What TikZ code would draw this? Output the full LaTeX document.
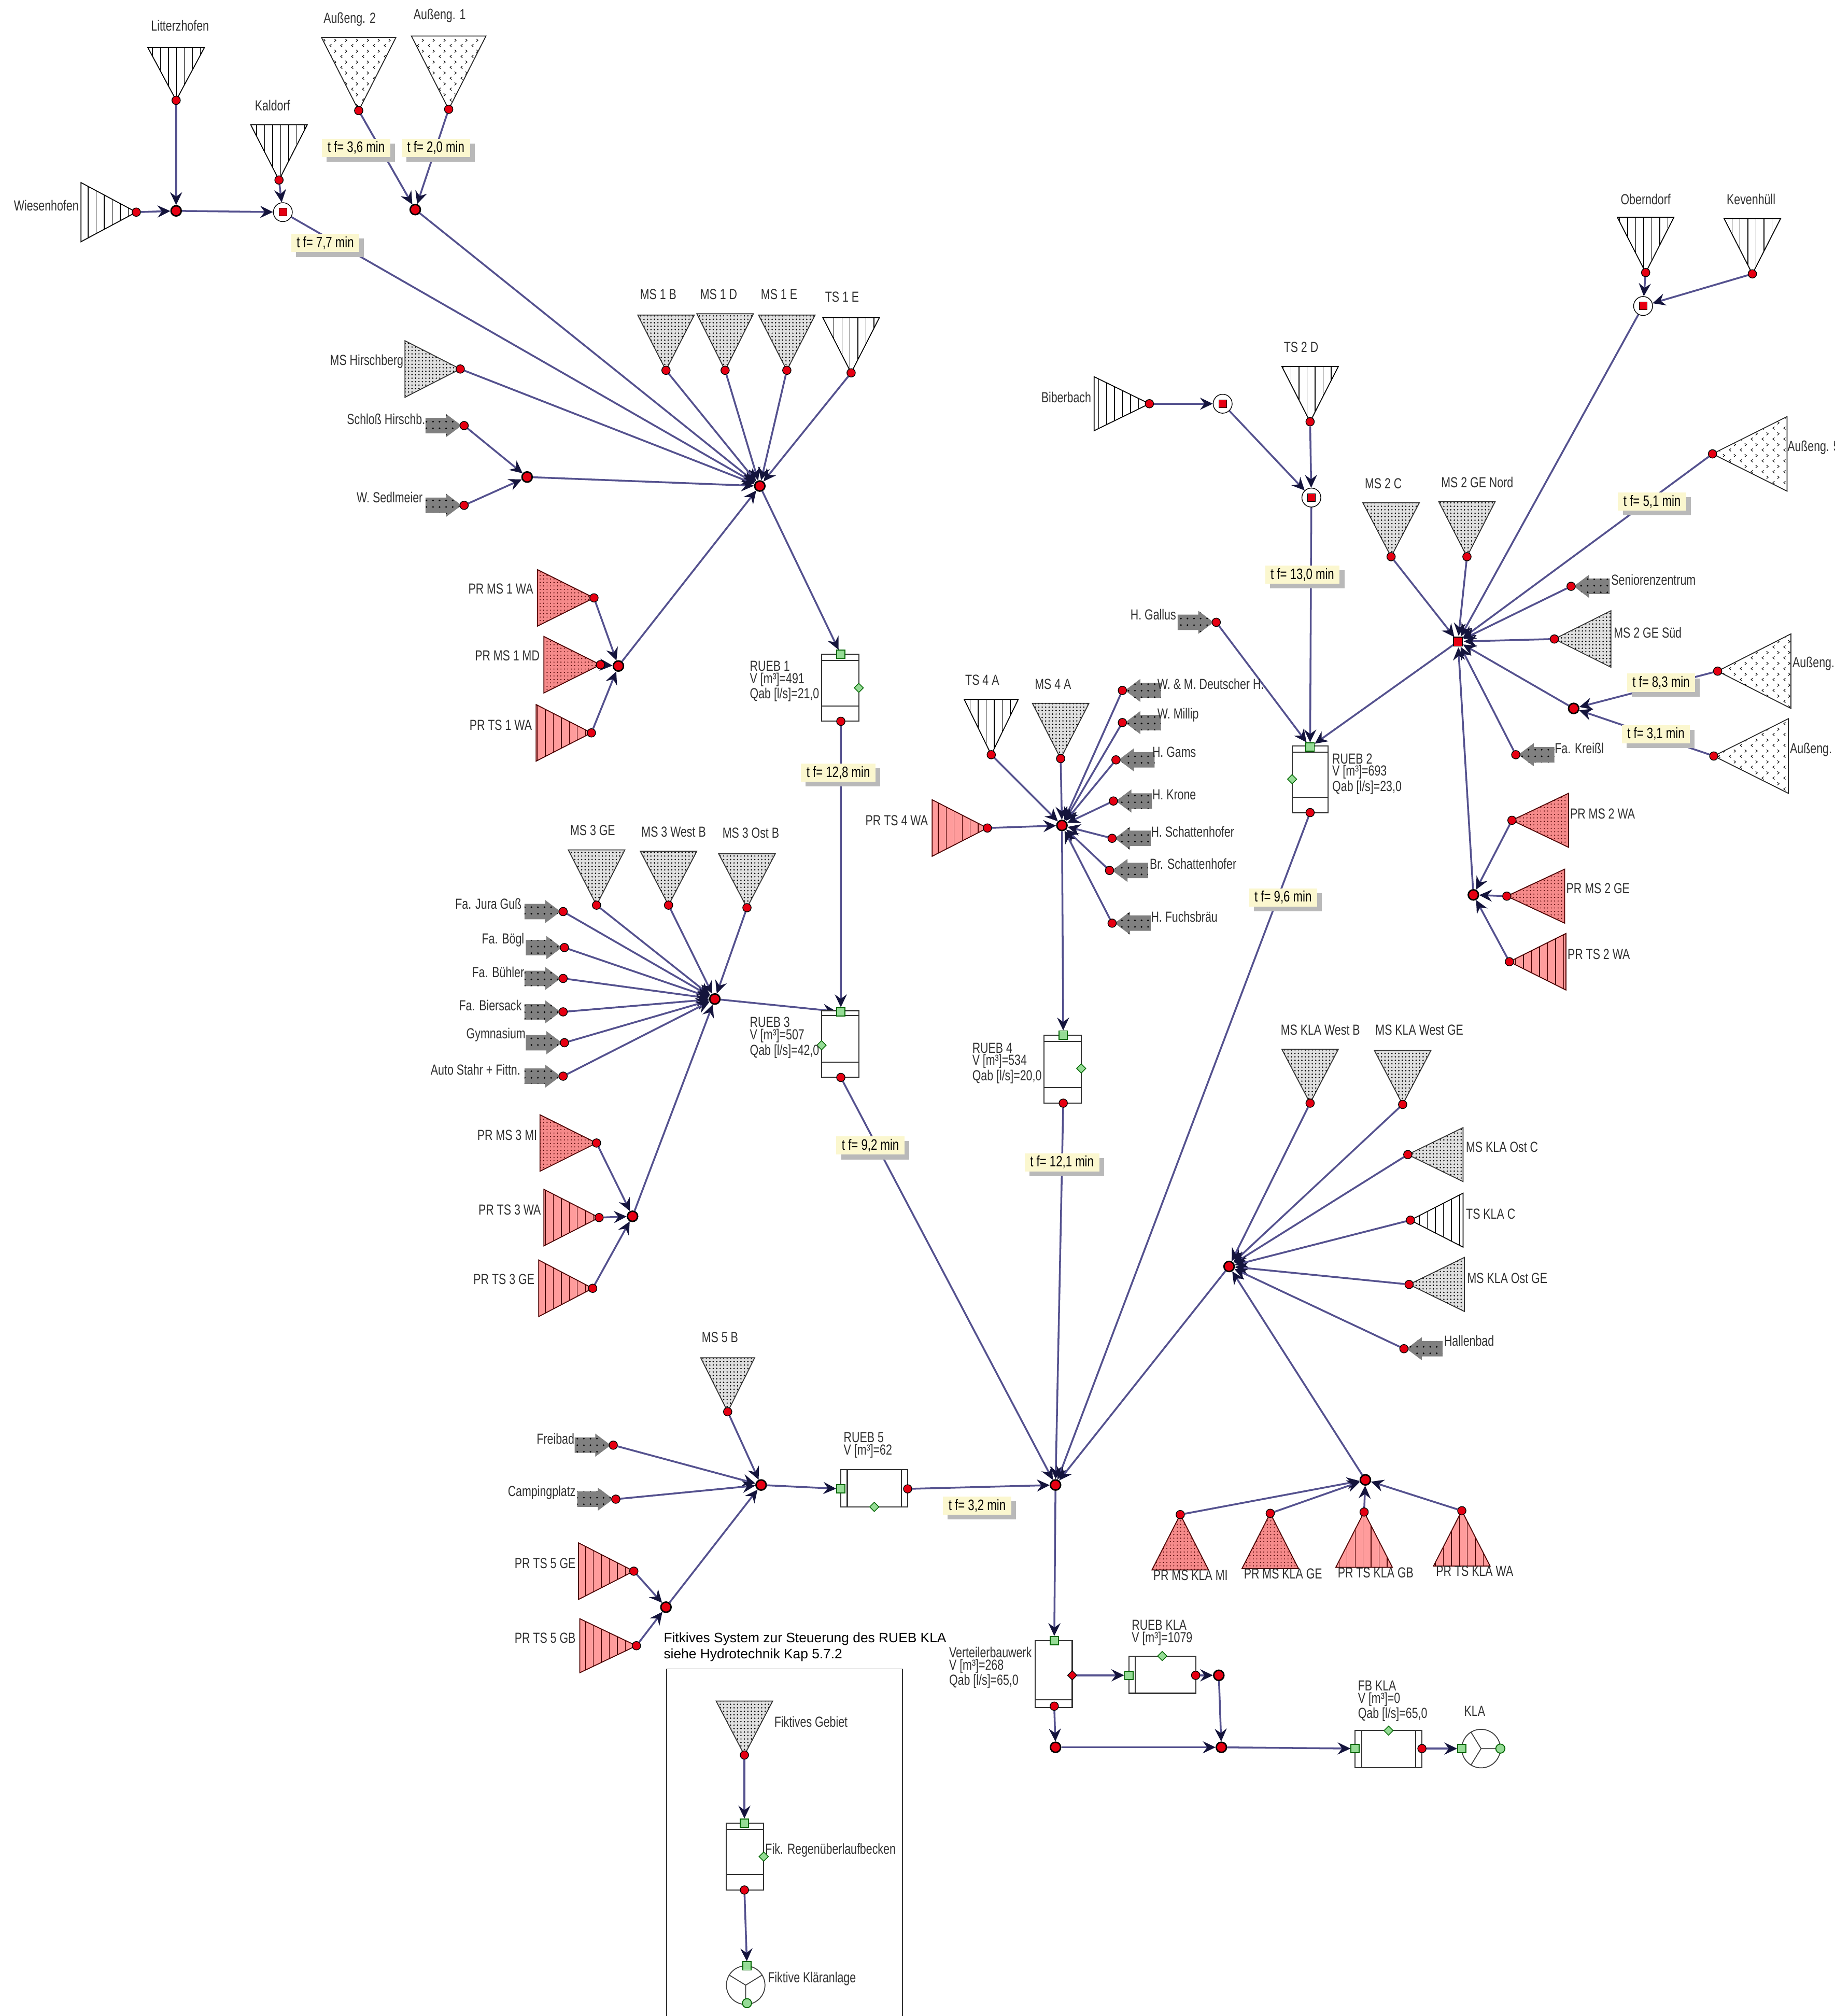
\documentclass[tikz,border=0pt]{standalone}
\usepackage{fontspec}
\setmainfont{Liberation Sans}
\newfontfamily\lab[FakeStretch=0.76]{Liberation Sans}
\usetikzlibrary{arrows.meta,patterns,patterns.meta,shapes.geometric,shadows}
\pgfdeclarelayer{conn}
\pgfsetlayers{conn,main}
\definecolor{flowc}{HTML}{55528F}
\definecolor{headc}{HTML}{14143C}
\definecolor{prfill}{HTML}{FF9C9C}
\definecolor{prdot}{HTML}{F58A8A}
\definecolor{tfc}{HTML}{FBF7CF}
\definecolor{greenc}{HTML}{96DC96}
\definecolor{txtc}{HTML}{303030}
\definecolor{redc}{HTML}{E60012}
\pgfdeclarepattern{name=chev,type=uncolored,bottom left={\pgfpoint{0pt}{0pt}},top right={\pgfpoint{6pt}{6pt}},tile size={\pgfpoint{6pt}{6pt}},
 code={\pgfsetlinewidth{.3pt}
  \pgfpathmoveto{\pgfpoint{2.2pt}{2.3pt}}\pgfpathlineto{\pgfpoint{1.2pt}{1.5pt}}\pgfpathlineto{\pgfpoint{2.2pt}{.7pt}}
  \pgfpathmoveto{\pgfpoint{3.8pt}{5.3pt}}\pgfpathlineto{\pgfpoint{4.8pt}{4.5pt}}\pgfpathlineto{\pgfpoint{3.8pt}{3.7pt}}
  \pgfusepath{stroke}}}
\tikzset{
 lbl/.style={font=\lab\fontsize{8pt}{6.7pt}\selectfont,text=txtc,inner sep=0pt,align=left},
 arial/.style={font=\fontsize{7.5pt}{8.6pt}\selectfont,text=black,inner sep=0pt,align=left},
 tf/.style={font=\lab\fontsize{8.3pt}{9pt}\selectfont,text=black,fill=tfc,inner xsep=3pt,inner ysep=0pt,minimum height=10pt,
  copy shadow={shadow xshift=2.6pt,shadow yshift=-2.6pt,fill=gray!55,draw=none,opacity=1}},
 dot/.style={circle,fill=redc,draw=black,line width=.4pt,inner sep=0pt,minimum size=4.6pt},
 joint/.style={circle,fill=redc,draw=black,line width=.8pt,inner sep=0pt,minimum size=5.6pt},
 redsq/.style={rectangle,fill=redc,draw=black,line width=.3pt,inner sep=0pt,minimum size=4.2pt},
 ring/.style={circle,draw=black,line width=.4pt,fill=white,inner sep=0pt,minimum size=10.4pt},
 greensq/.style={rectangle,fill=greenc,draw=black!60!green,line width=.5pt,inner sep=0pt,minimum size=4.6pt},
 greencirc/.style={circle,fill=greenc,draw=black!60!green,line width=.5pt,inner sep=0pt,minimum size=5pt},
 gdiam/.style={diamond,fill=greenc,draw=black!60!green,line width=.4pt,inner sep=0pt,minimum size=5.2pt},
 rdiam/.style={diamond,fill=redc,draw=black,line width=.4pt,inner sep=0pt,minimum size=5.2pt},
 basin/.style={draw=black!80,line width=.6pt,fill=white},
 hatchT/.style={draw=black,line width=.5pt,preaction={fill=white},pattern={Lines[angle=90,distance=4.4pt,line width=.4pt]},pattern color=black},
 dotT/.style={draw=black!80,line width=.5pt,preaction={fill=black!12},pattern={Dots[distance=1.9pt,radius=.42pt]},pattern color=black},
 chevT/.style={draw=black!85,line width=.5pt,preaction={fill=white},pattern=chev,pattern color=black},
 prdotT/.style={draw=black!70!red,line width=.5pt,preaction={fill=prdot},pattern={Dots[distance=1.9pt,radius=.33pt]},pattern color=black!70!red},
 prhatchT/.style={draw=black!70!red,line width=.5pt,preaction={fill=prfill},pattern={Lines[angle=90,distance=4.4pt,line width=.4pt]},pattern color=black!70!red},
 block/.style={preaction={fill=black!50},pattern={Dots[distance=3.6pt,radius=.5pt]},pattern color=black},
 flow/.style={draw=flowc,line width=1pt,-{Stealth[length=7pt,width=6.6pt,inset=2.4pt,color=headc]}},
 yspoke/.style={draw=black!75,line width=.5pt},
}
% triangles: name, apex x, apex y, half width, length, style
\newcommand\triD[6]{\path[#6] (#2,#3)--(#2-#4,#3-#5)--(#2+#4,#3-#5)--cycle;\node[dot] (#1) at (#2,#3){};}
\newcommand\triU[6]{\path[#6] (#2,#3)--(#2-#4,#3+#5)--(#2+#4,#3+#5)--cycle;\node[dot] (#1) at (#2,#3){};}
\newcommand\triR[6]{\path[#6] (#2,#3)--(#2-#5,#3-#4)--(#2-#5,#3+#4)--cycle;\node[dot] (#1) at (#2,#3){};}
\newcommand\triL[6]{\path[#6] (#2,#3)--(#2+#5,#3-#4)--(#2+#5,#3+#4)--cycle;\node[dot] (#1) at (#2,#3){};}
% block arrows: name, dot x, dot y
\newcommand\arrR[3]{\path[block] (#2-2,#3)--(#2-14,#3-9)--(#2-14,#3-6)--(#2-30,#3-6)--(#2-30,#3+6)--(#2-14,#3+6)--(#2-14,#3+9)--cycle;\node[dot] (#1) at (#2,#3){};}
\newcommand\arrL[3]{\path[block] (#2+2,#3)--(#2+14,#3-9)--(#2+14,#3-6)--(#2+30,#3-6)--(#2+30,#3+6)--(#2+14,#3+6)--(#2+14,#3+9)--cycle;\node[dot] (#1) at (#2,#3){};}
\newcommand\sqjoin[3]{\node[ring] (#1) at (#2,#3){};\node[redsq] (#1-in) at (#2,#3){};}
% upright basin: name, x0, x1, y0, y1, y top line, y low line
\newcommand\basinV[7]{\path[basin] (#2,#4) rectangle (#3,#5);\draw[basin] (#2,#6)--(#3,#6) (#2,#7)--(#3,#7);}
\newcommand\lb[5]{\node[lbl,anchor=#4] (#1) at (#2,#3) {#5};}
\begin{document}
\begin{tikzpicture}[x=0.0248cm,y=-0.0248cm]
\useasboundingbox (0,0) rectangle (1427,1568);
\begin{pgfonlayer}{conn}
\fill[white] (0,0) rectangle (1427,1568);
\end{pgfonlayer}
\clip (0,0) rectangle (1427,1568);

% ---- top left
\triR{wie}{106}{165}{23}{43}{hatchT}
\triD{lit}{137}{78}{22}{41}{hatchT}
\triD{kal}{217}{140}{22}{43}{hatchT}
\triD{au2}{279}{86}{29}{57}{chevT}
\triD{au1}{349}{85}{29}{57}{chevT}
\node[joint] (j1) at (137,164){};
\node[joint] (j2) at (323,163){};
\sqjoin{k}{220}{165}
\lb{lwie}{36}{160}{center}{Wiesenhofen}
\lb{llit}{140}{20}{center}{Litterzhofen}
\lb{lkal}{212}{82}{center}{Kaldorf}
\lb{lau2}{272}{15}{center}{Außeng. 2}
\lb{lau1}{342}{12}{center}{Außeng. 1}
\node[tf] (tf1) at (277,115){t f= 3,6 min};
\node[tf] (tf2) at (339,115){t f= 2,0 min};
\node[tf] (tf3) at (253,189){t f= 7,7 min};

% ---- MS 1
\node[joint] (h1) at (591,378){};
\triD{ms1b}{518}{288}{22}{43}{dotT}
\triD{ms1d}{564}{288}{22}{44}{dotT}
\triD{ms1e}{612}{288}{22}{43}{dotT}
\triD{ts1e}{662}{290}{22}{43}{hatchT}
\lb{lms1b}{512}{229}{center}{MS 1 B}
\lb{lms1d}{559}{229}{center}{MS 1 D}
\lb{lms1e}{606}{229}{center}{MS 1 E}
\lb{lts1e}{655}{231}{center}{TS 1 E}
\triR{hir}{358}{287}{22}{43}{dotT}
\lb{lhir}{314}{281}{east}{MS Hirschberg}
\arrR{sch}{361}{331}
\arrR{sed}{361}{393}
\lb{lsch}{331}{326}{east}{Schloß Hirschb.}
\lb{lsed}{329}{387}{east}{W. Sedlmeier}
\node[joint] (j3) at (410,371){};
\triR{pm1w}{462}{465}{22}{44}{prdotT}
\triR{pm1d}{467}{517}{22}{44}{prdotT}
\triR{pt1w}{460}{570}{22}{43}{prhatchT}
\lb{lpm1w}{415}{458}{east}{PR MS 1 WA}
\lb{lpm1d}{420}{510}{east}{PR MS 1 MD}
\lb{lpt1w}{414}{564}{east}{PR TS 1 WA}
\node[joint] (j4) at (481,518){};

% ---- RUEB 1
\basinV{r1}{639}{668}{509}{561}{513.5}{549}
\node[greensq] (r1in) at (654,509){};
\node[dot] (r1out) at (654,561){};
\node[gdiam] (r1d) at (668,535){};
\lb{lr1}{583}{530}{west}{RUEB 1\\V [m³]=491\\Qab [l/s]=21,0}
\node[tf] (tf4) at (652,601){t f= 12,8 min};

% ---- MS 3
\node[joint] (h3) at (556,777){};
\triD{ms3g}{464}{704}{22}{43}{dotT}
\triD{ms3w}{520}{704}{22}{42}{dotT}
\triD{ms3o}{581}{706}{22}{42}{dotT}
\lb{lms3g}{461}{646}{center}{MS 3 GE}
\lb{lms3w}{524}{647}{center}{MS 3 West B}
\lb{lms3o}{584}{648}{center}{MS 3 Ost B}
\arrR{jur}{438}{709}
\arrR{bog}{439}{737}
\arrR{buh}{438}{761}
\arrR{bie}{438}{787}
\arrR{gym}{439}{811}
\arrR{aut}{438}{837}
\lb{ljur}{406}{703}{east}{Fa. Jura Guß}
\lb{lbog}{408}{731}{east}{Fa. Bögl}
\lb{lbuh}{408}{756}{east}{Fa. Bühler}
\lb{lbie}{406}{782}{east}{Fa. Biersack}
\lb{lgym}{409}{805}{east}{Gymnasium}
\lb{laut}{405}{832}{east}{Auto Stahr + Fittn.}
\triR{pm3m}{464}{889}{22}{44}{prdotT}
\triR{pt3w}{466}{947}{22}{43}{prhatchT}
\triR{pt3g}{461}{1002}{22}{42}{prhatchT}
\lb{lpm3m}{418}{883}{east}{PR MS 3 MI}
\lb{lpt3w}{421}{941}{east}{PR TS 3 WA}
\lb{lpt3g}{416}{995}{east}{PR TS 3 GE}
\node[joint] (j5) at (492,946){};
\basinV{r3}{639}{668}{786}{838}{790}{826}
\node[greensq] (r3in) at (654,787){};
\node[dot] (r3out) at (654,838){};
\node[gdiam] (r3d) at (639,813){};
\lb{lr3}{583}{807}{west}{RUEB 3\\V [m³]=507\\Qab [l/s]=42,0}
\node[tf] (tf5) at (677,891){t f= 9,2 min};

% ---- Hub 4
\node[joint] (h4) at (826,642){};
\triR{pt4w}{768}{644}{22}{43}{prhatchT}
\lb{lpt4w}{722}{638}{east}{PR TS 4 WA}
\triD{ts4a}{771}{587}{21}{43}{hatchT}
\triD{ms4a}{825}{590}{22}{43}{dotT}
\lb{lts4a}{764}{529}{center}{TS 4 A}
\lb{lms4a}{819}{532}{center}{MS 4 A}
\arrL{deu}{873}{537}
\arrL{mil}{873}{562}
\arrL{gam}{868}{591}
\arrL{kro}{866}{623}
\arrL{sct}{865}{652}
\arrL{bsc}{863}{677}
\arrL{fuc}{865}{718}
\lb{ldeu}{900}{532}{west}{W. \& M. Deutscher H.}
\lb{lmil}{900}{556}{west}{W. Millip}
\lb{lgam}{896}{585}{west}{H. Gams}
\lb{lkro}{896}{618}{west}{H. Krone}
\lb{lsct}{895}{647}{west}{H. Schattenhofer}
\lb{lbsc}{894}{672}{west}{Br. Schattenhofer}
\lb{lfuc}{895}{713}{west}{H. Fuchsbräu}
\basinV{r4}{812}{841}{805}{858}{810}{846}
\node[greensq] (r4in) at (827,805){};
\node[dot] (r4out) at (827,858){};
\node[gdiam] (r4d) at (841,831){};
\lb{lr4}{756}{827}{west}{RUEB 4\\V [m³]=534\\Qab [l/s]=20,0}
\node[tf] (tf6) at (826,904){t f= 12,1 min};

% ---- RUEB 2 feed
\triR{bib}{894}{314}{21}{43}{hatchT}
\lb{lbib}{849}{309}{east}{Biberbach}
\sqjoin{b1}{951}{314}
\triD{ts2d}{1019}{328}{22}{43}{hatchT}
\lb{lts2d}{1012}{270}{center}{TS 2 D}
\sqjoin{b2}{1020}{387}
\node[tf] (tf7) at (1013,447){t f= 13,0 min};
\arrR{gal}{946}{484}
\lb{lgal}{915}{478}{east}{H. Gallus}
\basinV{r2}{1005}{1033}{580}{632}{585}{620}
\node[greensq] (r2in) at (1019,581){};
\node[dot] (r2out) at (1019,632){};
\node[gdiam] (r2d) at (1005,606){};
\lb{lr2}{1036}{602}{west}{RUEB 2\\V [m³]=693\\Qab [l/s]=23,0}
\node[tf] (tf8) at (998,698){t f= 9,6 min};

% ---- Hub 2
\node[ring,minimum size=6pt,draw=none,fill=none] (h2) at (1134,499){};
\node[rectangle,fill=redc,draw=black,line width=.5pt,inner sep=0pt,minimum size=5pt] (h2-in) at (1134,499){};
\triD{ms2c}{1082}{433}{22}{42}{dotT}
\triD{ms2n}{1141}{433}{22}{43}{dotT}
\lb{lms2c}{1076}{376}{center}{MS 2 C}
\lb{lms2n}{1149}{375}{center}{MS 2 GE Nord}
\triD{obe}{1280}{212}{22}{43}{hatchT}
\triD{kev}{1363}{213}{22}{43}{hatchT}
\lb{lobe}{1280}{155}{center}{Oberndorf}
\lb{lkev}{1362}{155}{center}{Kevenhüll}
\sqjoin{o1}{1278}{238}
\triL{au5}{1332}{353}{29}{58}{chevT}
\lb{lau5}{1390}{348}{west}{Außeng. 5}
\node[tf] (tf9) at (1285,390){t f= 5,1 min};
\arrL{sen}{1222}{456}
\lb{lsen}{1253}{451}{west}{Seniorenzentrum}
\triL{ms2s}{1209}{497}{22}{44}{dotT}
\lb{lms2s}{1255}{492}{west}{MS 2 GE Süd}
\triL{au4}{1336}{522}{29}{57}{chevT}
\lb{lau4}{1394}{516}{west}{Außeng. 4}
\node[joint] (j6) at (1224,551){};
\node[tf] (tf10) at (1292,531){t f= 8,3 min};
\node[tf] (tf11) at (1288,571){t f= 3,1 min};
\triL{au3}{1333}{588}{29}{58}{chevT}
\lb{lau3}{1392}{583}{west}{Außeng. 3}
\arrL{kre}{1179}{587}
\lb{lkre}{1209}{582}{west}{Fa. Kreißl}
\triL{pm2w}{1176}{638}{21}{44}{prdotT}
\triL{pm2g}{1172}{697}{21}{45}{prdotT}
\triL{pt2w}{1174}{748}{22}{44}{prhatchT}
\lb{lpm2w}{1221}{633}{west}{PR MS 2 WA}
\lb{lpm2g}{1218}{691}{west}{PR MS 2 GE}
\lb{lpt2w}{1219}{742}{west}{PR TS 2 WA}
\node[joint] (j7) at (1146,696){};

% ---- KLA catchment
\node[joint] (h5) at (956,985){};
\triD{kwb}{1019}{858}{22}{42}{dotT}
\triD{kwg}{1091}{859}{22}{42}{dotT}
\lb{lkwb}{1027}{801}{center}{MS KLA West B}
\lb{lkwg}{1104}{801}{center}{MS KLA West GE}
\triL{koc}{1095}{898}{21}{43}{dotT}
\triL{tkc}{1097}{949}{21}{41}{hatchT}
\triL{kog}{1096}{999}{21}{43}{dotT}
\arrL{hal}{1092}{1049}
\lb{lkoc}{1140}{892}{west}{MS KLA Ost C}
\lb{ltkc}{1140}{944}{west}{TS KLA C}
\lb{lkog}{1141}{994}{west}{MS KLA Ost GE}
\lb{lhal}{1123}{1043}{west}{Hallenbad}
\node[joint] (j8) at (1062,1151){};
\triU{pkm}{918}{1178}{22}{43}{prdotT}
\triU{pkg}{988}{1177}{22}{43}{prdotT}
\triU{ptg}{1061}{1176}{22}{43}{prhatchT}
\triU{ptw}{1137}{1175}{22}{43}{prhatchT}
\lb{lpkm}{926}{1225}{center}{PR MS KLA MI}
\lb{lpkg}{998}{1224}{center}{PR MS KLA GE}
\lb{lptg}{1070}{1223}{center}{PR TS KLA GB}
\lb{lptw}{1147}{1222}{center}{PR TS KLA WA}

% ---- main node
\node[joint] (m) at (821,1155){};

% ---- RUEB 5
\triD{ms5b}{566}{1098}{21}{42}{dotT}
\lb{lms5b}{560}{1040}{center}{MS 5 B}
\arrR{fre}{477}{1124}
\arrR{cam}{479}{1166}
\lb{lfre}{447}{1119}{east}{Freibad}
\lb{lcam}{448}{1161}{east}{Campingplatz}
\node[joint] (h6) at (592,1155){};
\triR{pt5g}{493}{1222}{22}{43}{prhatchT}
\triR{pt5b}{495}{1280}{21}{44}{prhatchT}
\lb{lpt5g}{448}{1216}{east}{PR TS 5 GE}
\lb{lpt5b}{448}{1274}{east}{PR TS 5 GB}
\node[joint] (j9) at (518,1250){};
\path[basin] (654,1143) rectangle (706,1172);
\draw[basin] (659,1143)--(659,1172) (701,1143)--(701,1172);
\node[greensq] (r5in) at (654,1158){};
\node[dot] (r5out) at (706,1158){};
\node[gdiam] (r5d) at (680,1172){};
\lb{lr5}{656}{1124}{west}{RUEB 5\\V [m³]=62}
\node[tf] (tf12) at (760,1171){t f= 3,2 min};

% ---- Verteilerbauwerk
\basinV{vb}{805}{834}{1276}{1328}{1276}{1322}
\node[greensq] (vbin) at (820,1276){};
\node[dot] (vbout) at (820,1327){};
\node[rdiam] (vbr) at (834,1303){};
\lb{lvb}{738}{1297}{west}{Verteilerbauwerk\\V [m³]=268\\Qab [l/s]=65,0}
\path[basin] (878,1288) rectangle (930,1317);
\draw[basin] (883,1288)--(883,1317);
\node[greensq] (rkin) at (878,1303){};
\node[dot] (rkout) at (930,1303){};
\node[gdiam] (rkd) at (904,1288){};
\lb{lrk}{880}{1270}{west}{RUEB KLA\\V [m³]=1079}
\node[joint] (j10) at (948,1303){};
\node[joint] (j11) at (821,1359){};
\node[joint] (j12) at (950,1359){};
\path[basin] (1054,1346) rectangle (1106,1375);
\draw[basin] (1059,1346)--(1059,1375) (1101,1346)--(1101,1375);
\node[greensq] (fbin) at (1054,1360){};
\node[dot] (fbout) at (1106,1360){};
\node[gdiam] (fbd) at (1080,1346){};
\lb{lfb}{1056}{1323}{west}{FB KLA\\V [m³]=0\\Qab [l/s]=65,0}
% KLA
\draw[yspoke] (1152,1360) circle [radius=15];
\draw[yspoke] (1152,1360)--(1167,1360) (1152,1360)--(1144,1347) (1152,1360)--(1144,1373);
\node[greensq] (klain) at (1137,1360){};
\node[greencirc] (klaout) at (1167,1360){};
\lb{lkla}{1147}{1331}{center}{KLA}

% ---- fictitious system
\draw[black!80,line width=.5pt] (518.5,1568)--(518.5,1298)--(702,1298)--(702,1568);
\node[arial] (ftxt) at (516,1281) [anchor=west] {Fitkives System zur Steuerung des RUEB KLA\\siehe Hydrotechnik Kap 5.7.2};
\triD{fge}{579}{1365}{22}{42}{dotT}
\lb{lfge}{602}{1339}{west}{Fiktives Gebiet}
\basinV{fb2}{565}{594}{1418}{1470}{1423}{1458}
\node[greensq] (fbin2) at (579,1418){};
\node[dot] (fbout2) at (579,1470){};
\node[gdiam] (fbd2) at (594,1444){};
\lb{lfbb}{595}{1439}{west}{Fik. Regenüberlaufbecken}
\draw[yspoke] (580,1544) circle [radius=15];
\draw[yspoke] (580,1544)--(580,1558) (580,1544)--(567,1536) (580,1544)--(593,1536);
\node[greensq] (fklin) at (581,1529){};
\node[greencirc] (fklout) at (581,1558){};
\lb{lfkl}{597}{1539}{west}{Fiktive Kläranlage}

% ---- connectors
\begin{pgfonlayer}{conn}
\foreach \a/\b in {lit/j1,wie/j1,j1/k,kal/k,au2/j2,au1/j2,k/h1,j2/h1,
 ms1b/h1,ms1d/h1,ms1e/h1,ts1e/h1,hir/h1,sch/j3,sed/j3,j3/h1,
 pm1w/j4,pm1d/j4,pt1w/j4,j4/h1,h1/r1in,r1out/r3in,
 ms3g/h3,ms3w/h3,ms3o/h3,jur/h3,bog/h3,buh/h3,bie/h3,gym/h3,aut/h3,
 pm3m/j5,pt3w/j5,pt3g/j5,j5/h3,h3/r3in,r3out/m,
 pt4w/h4,ts4a/h4,ms4a/h4,deu/h4,mil/h4,gam/h4,kro/h4,sct/h4,bsc/h4,fuc/h4,h4/r4in,r4out/m,
 bib/b1,b1/b2,ts2d/b2,b2/r2in,gal/r2in,obe/o1,kev/o1,o1/h2,au5/h2,sen/h2,ms2c/h2,ms2n/h2,ms2s/h2,
 au4/j6,au3/j6,j6/h2,kre/h2,pm2w/j7,pm2g/j7,pt2w/j7,j7/h2,h2/r2in,r2out/m,
 kwb/h5,kwg/h5,koc/h5,tkc/h5,kog/h5,hal/h5,pkm/j8,pkg/j8,ptg/j8,ptw/j8,j8/h5,h5/m,
 ms5b/h6,fre/h6,cam/h6,pt5g/j9,pt5b/j9,j9/h6,h6/r5in,r5out/m,
 m/vbin,vbr/rkin,vbout/j11,rkout/j10,j10/j12,j11/j12,j12/fbin,fbout/klain,
 fge/fbin2,fbout2/fklin}
 {\draw[flow] (\a) -- (\b);}
\end{pgfonlayer}
\end{tikzpicture}
\end{document}
